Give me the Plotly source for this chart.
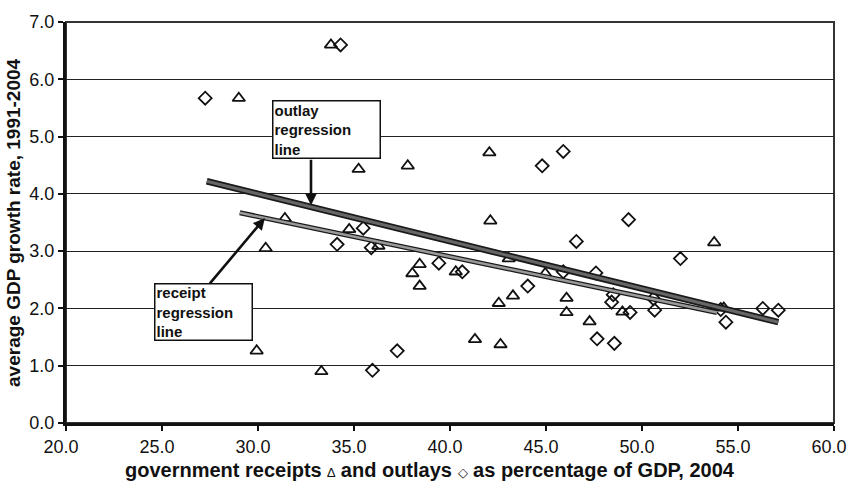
import plotly.graph_objects as go

# Government receipts (% of GDP, 2004) vs. average GDP growth 1991-2004
receipts_x = [33.8, 29.0, 35.24, 37.8, 42.05, 31.4, 42.1, 30.4, 34.75, 36.27,
              38.42, 38.04, 38.42, 40.3, 29.93, 33.3, 53.76, 43.06, 44.96, 43.28,
              42.54, 46.07, 46.07, 48.98, 47.27, 41.3, 42.63, 54.26]
receipts_y = [6.60, 5.67, 4.43, 4.49, 4.72, 3.57, 3.53, 3.05, 3.38, 3.09,
              2.77, 2.61, 2.39, 2.64, 1.26, 0.90, 3.15, 2.87, 2.61, 2.22,
              2.09, 2.18, 1.93, 1.94, 1.77, 1.46, 1.37, 2.01]

# Government outlays (% of GDP, 2004) vs. average GDP growth 1991-2004
outlays_x = [34.3, 27.25, 45.9, 44.8, 49.3, 35.48, 34.12, 35.9, 39.42, 35.96,
             37.25, 46.58, 52.0, 40.64, 45.9, 47.6, 44.05, 48.5, 48.42, 49.38,
             50.66, 47.66, 48.56, 54.37, 56.29, 57.1, 54.1, 50.6]
outlays_y = [6.60, 5.67, 4.74, 4.49, 3.55, 3.40, 3.12, 3.06, 2.79, 0.92,
             1.26, 3.17, 2.87, 2.64, 2.64, 2.62, 2.39, 2.24, 2.11, 1.93,
             1.97, 1.47, 1.39, 1.76, 2.00, 1.97, 1.98, 2.17]

# Fitted regression lines (end points)
outlay_fit_x = [27.33, 57.1]
outlay_fit_y = [4.22, 1.76]
receipt_fit_x = [29.05, 53.9]
receipt_fit_y = [3.67, 1.93]

x_ticks = [20, 25, 30, 35, 40, 45, 50, 55, 60]
y_ticks = [0, 1, 2, 3, 4, 5, 6, 7]

FONT = "Liberation Sans, Arial, sans-serif"

fig = go.Figure()

fig.add_trace(go.Scatter(
    x=receipts_x, y=receipts_y, mode="markers", name="receipts",
    marker=dict(symbol="triangle-up-open", size=11, color="#111",
                line=dict(width=1.8, color="#111")),
))
fig.add_trace(go.Scatter(
    x=outlays_x, y=outlays_y, mode="markers", name="outlays",
    marker=dict(symbol="diamond-open", size=10, color="#111",
                line=dict(width=1.8, color="#111")),
))

# regression lines: dark outline with grey core
for fx, fy, core, outer_w, inner_w in [
    (receipt_fit_x, receipt_fit_y, "#9a9a9a", 5, 2.5),
    (outlay_fit_x, outlay_fit_y, "#666666", 6.5, 3),
]:
    fig.add_trace(go.Scatter(x=fx, y=fy, mode="lines",
                             line=dict(color="#1a1a1a", width=outer_w),
                             hoverinfo="skip"))
    fig.add_trace(go.Scatter(x=fx, y=fy, mode="lines",
                             line=dict(color=core, width=inner_w),
                             hoverinfo="skip"))

# label boxes
box_font = dict(family=FONT, size=15, color="#111")
fig.add_annotation(x=33.56, y=5.13, xref="x", yref="y",
                   text="<b>outlay<br>regression<br>line</b>",
                   showarrow=False, align="left", font=box_font,
                   width=104, height=54, borderpad=1,
                   bordercolor="#111", borderwidth=1.5, bgcolor="white")
fig.add_annotation(x=27.16, y=1.93, xref="x", yref="y",
                   text="<b>receipt<br>regression<br>line</b>",
                   showarrow=False, align="left", font=box_font,
                   width=94, height=53, borderpad=1,
                   bordercolor="#111", borderwidth=1.5, bgcolor="white")

# arrows pointing at the lines
fig.add_annotation(x=32.76, y=3.80, ax=32.76, ay=4.62,
                   xref="x", yref="y", axref="x", ayref="y",
                   text="", showarrow=True, arrowhead=2, arrowsize=0.9,
                   arrowwidth=2.6, arrowcolor="#111", standoff=0)
fig.add_annotation(x=30.36, y=3.58, ax=27.43, ay=2.41,
                   xref="x", yref="y", axref="x", ayref="y",
                   text="", showarrow=True, arrowhead=2, arrowsize=0.9,
                   arrowwidth=2.6, arrowcolor="#111", standoff=0)

# axis titles
fig.add_annotation(xref="paper", yref="paper", x=0.474, y=-0.117,
                   xanchor="center", yanchor="middle", showarrow=False,
                   text="<b>government receipts </b><span style='font-size:13px'>∆</span>"
                        "<b> and outlays </b><span style='font-size:13px'>◇</span>"
                        "<b> as percentage of GDP, 2004</b>",
                   font=dict(family=FONT, size=20, color="#111"))
fig.add_annotation(xref="paper", yref="paper", x=-0.0684, y=0.50,
                   xanchor="center", yanchor="middle", showarrow=False,
                   textangle=-90,
                   text="<b>average GDP growth rate, 1991-2004</b>",
                   font=dict(family=FONT, size=19, color="#111"))

# plot-area frame (top and right edges)
fig.add_shape(type="rect", xref="paper", yref="paper", x0=0, x1=1, y0=0, y1=1,
              line=dict(color="#333", width=2), layer="below")

fig.update_layout(
    width=859, height=483,
    margin=dict(l=66, r=18, t=12, b=60),
    paper_bgcolor="white", plot_bgcolor="white",
    showlegend=False,
    font=dict(family=FONT, size=18, color="#111"),
)
fig.update_xaxes(
    range=[20, 60], tickvals=x_ticks, tickformat=".1f",
    showgrid=False, zeroline=False,
    showline=True, linecolor="#111", linewidth=3,
    ticks="outside", ticklen=5, tickwidth=1.5, tickcolor="#111",
    ticklabelshift=-5,
)
fig.update_yaxes(
    range=[0, 7], tickvals=y_ticks, tickformat=".1f",
    showgrid=True, gridcolor="#222", gridwidth=1.4, zeroline=False,
    showline=True, linecolor="#111", linewidth=3,
    ticks="outside", ticklen=5, tickwidth=1.5, tickcolor="#111",
)

fig.write_html("out.html")
